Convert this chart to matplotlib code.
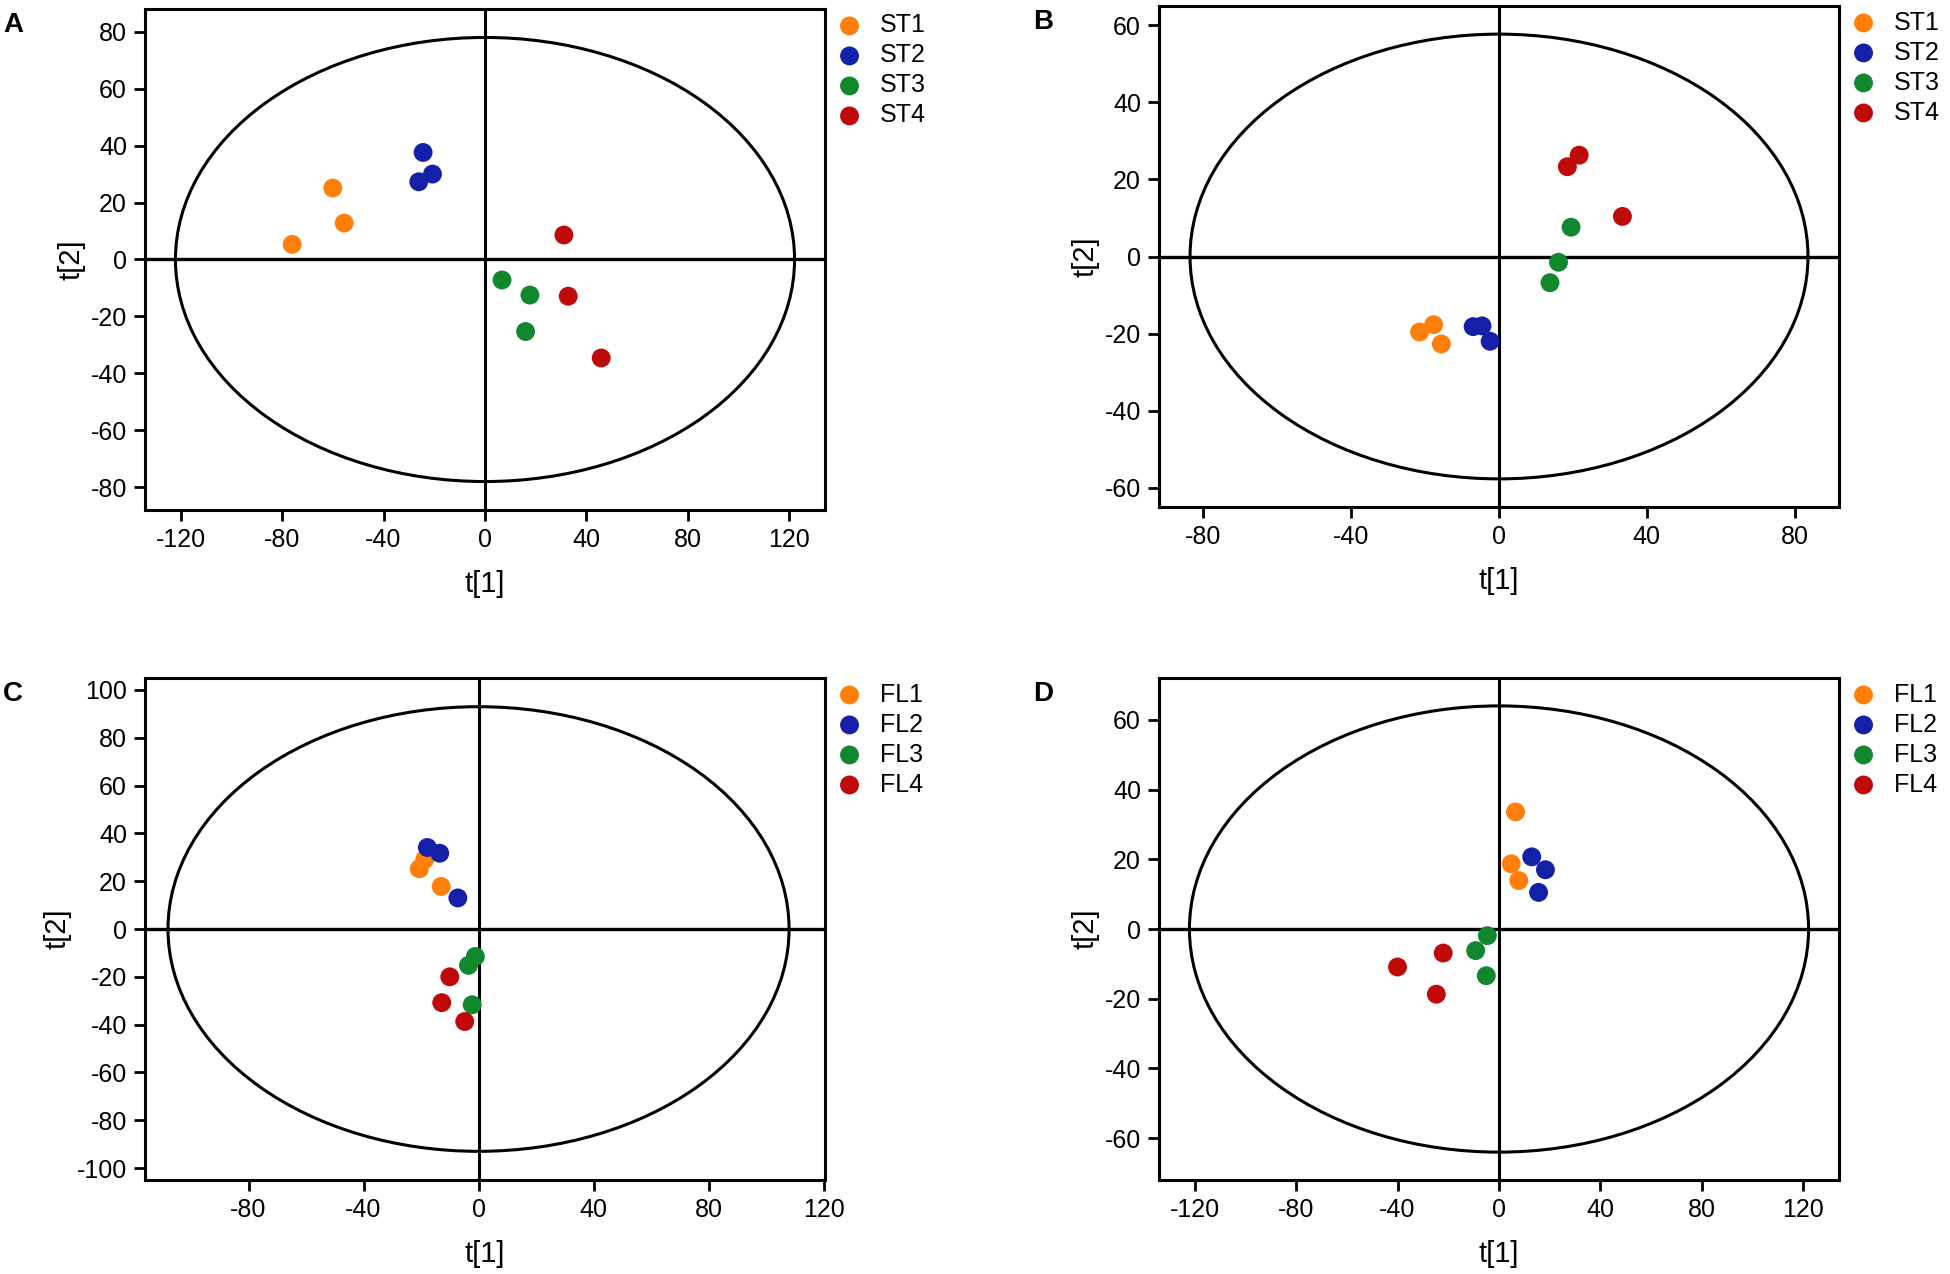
import matplotlib
matplotlib.use("Agg")
import matplotlib.pyplot as plt
from matplotlib.patches import Ellipse
import numpy as np

plt.rcParams['font.family'] = ['Liberation Sans', 'DejaVu Sans']
plt.rcParams['axes.unicode_minus'] = False

colors = ['#FF7F0A', '#1420A8', '#12882E', '#C00A0A']

# Panel A (stem)
a_labels = ['ST1', 'ST2', 'ST3', 'ST4']
a_x = [[-76, -60, -55.5], [-24.4, -26.1, -20.7], [6.7, 17.7, 16.0], [31.1, 32.8, 45.8]]
a_y = [[5.3, 25.1, 12.8], [37.6, 27.3, 30.0], [-7.2, -12.5, -25.3], [8.6, -12.9, -34.6]]
a_ellipse = [122, 78]
a_xlim = [-134, 134]
a_ylim = [-88, 88]
a_xticks = [-120, -80, -40, 0, 40, 80, 120]
a_yticks = [-80, -60, -40, -20, 0, 20, 40, 60, 80]

# Panel B
b_labels = ['ST1', 'ST2', 'ST3', 'ST4']
b_x = [[-21.5, -17.7, -15.6], [-7.0, -4.6, -2.4], [19.5, 16.1, 13.8], [18.5, 21.7, 33.4]]
b_y = [[-19.6, -17.7, -22.7], [-18.2, -18.0, -22.0], [7.6, -1.5, -6.8], [23.3, 26.3, 10.4]]
b_ellipse = [83.6, 57.7]
b_xlim = [-92, 92]
b_ylim = [-65, 65]
b_xticks = [-80, -40, 0, 40, 80]
b_yticks = [-60, -40, -20, 0, 20, 40, 60]

# Panel C (flower)
c_labels = ['FL1', 'FL2', 'FL3', 'FL4']
c_x = [[-20.6, -18.7, -13.0], [-17.8, -13.5, -7.2], [-1.1, -3.5, -2.2], [-10.0, -12.8, -4.8]]
c_y = [[25.2, 29.1, 17.8], [34.1, 31.7, 13.0], [-11.5, -15.2, -31.7], [-20.0, -30.8, -38.7]]
c_ellipse = [108, 93]
c_xlim = [-116, 120.5]
c_ylim = [-105, 105]
c_xticks = [-80, -40, 0, 40, 80, 120]
c_yticks = [-100, -80, -60, -40, -20, 0, 20, 40, 60, 80, 100]

# Panel D
d_labels = ['FL1', 'FL2', 'FL3', 'FL4']
d_x = [[6.5, 4.8, 7.8], [12.9, 18.3, 15.6], [-4.6, -9.2, -5.0], [-22.0, -40.0, -24.7]]
d_y = [[33.6, 18.7, 13.9], [20.7, 17.0, 10.5], [-1.9, -6.2, -13.4], [-6.9, -10.9, -18.7]]
d_ellipse = [122, 64]
d_xlim = [-134, 134]
d_ylim = [-72, 72]
d_xticks = [-120, -80, -40, 0, 40, 80, 120]
d_yticks = [-60, -40, -20, 0, 20, 40, 60]

panels = [
    ('A', [0.07436, 0.59969, 0.34872, 0.39325], a_labels, a_x, a_y, a_ellipse, a_xlim, a_ylim, a_xticks, a_yticks),
    ('B', [0.59436, 0.60204, 0.34872, 0.39325], b_labels, b_x, b_y, b_ellipse, b_xlim, b_ylim, b_xticks, b_yticks),
    ('C', [0.07436, 0.07378, 0.34872, 0.39403], c_labels, c_x, c_y, c_ellipse, c_xlim, c_ylim, c_xticks, c_yticks),
    ('D', [0.59436, 0.07378, 0.34872, 0.39403], d_labels, d_x, d_y, d_ellipse, d_xlim, d_ylim, d_xticks, d_yticks),
]

fig = plt.figure(figsize=(19.5, 12.74), dpi=100)
fs = 18

for letter, rect, labels, xs, ys, ell, xlim, ylim, xt, yt in panels:
    ax = fig.add_axes(rect)
    ax.add_patch(Ellipse((0, 0), 2 * ell[0], 2 * ell[1], fill=False, lw=2.2, ec='black', zorder=2))
    ax.axhline(0, color='black', lw=2.4, zorder=2)
    ax.axvline(0, color='black', lw=2.2, zorder=2)
    for lab, x, y, c in zip(labels, xs, ys, colors):
        ax.scatter(x, y, s=185, color=c, edgecolors='none', label=lab, zorder=3)
    ax.set_xlim(xlim)
    ax.set_ylim(ylim)
    ax.set_xticks(xt)
    ax.set_yticks(yt)
    ax.tick_params(direction='out', length=8, width=2, labelsize=fs, pad=5,
                   top=False, right=False)
    for sp in ax.spines.values():
        sp.set_linewidth(2.2)
    ax.set_xlabel('t[1]', fontsize=21, labelpad=13)
    ax.set_ylabel('t[2]', fontsize=21, labelpad=4)
    ax.legend(loc='upper left', bbox_to_anchor=(1.014, 0.996), frameon=False,
              fontsize=fs, handlelength=1.0, handletextpad=0.7,
              labelspacing=0.24, borderpad=0.1, borderaxespad=0, markerscale=1.0)
    bb = ax.get_position()
    fig.text(0.0015 if letter in 'AC' else 0.530, bb.y1 - 0.002, letter,
             fontsize=20, fontweight='bold', va='top', ha='left')

fig.savefig('out.png', dpi=100)
